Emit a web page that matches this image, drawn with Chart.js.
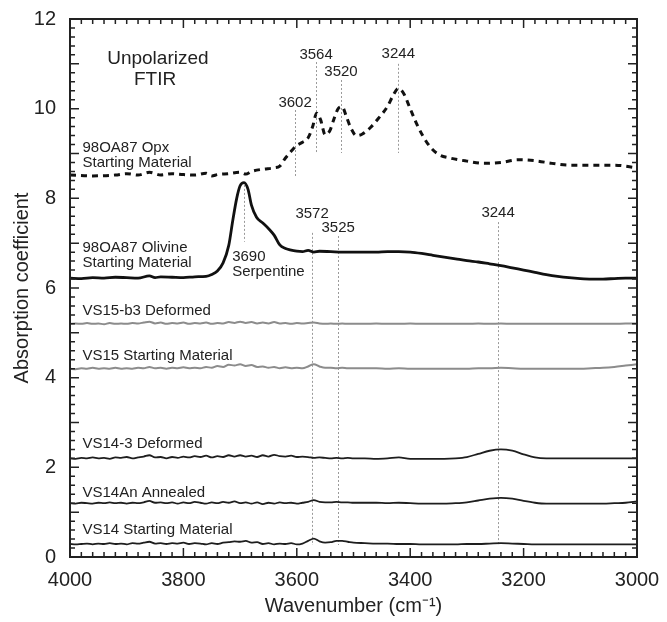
<!DOCTYPE html>
<html>
<head>
<meta charset="utf-8">
<script src="https://cdn.jsdelivr.net/npm/chart.js@4/dist/chart.umd.min.js"></script>
<style>
  body { margin: 0; background: #fff; }
</style>
</head>
<body>
<canvas id="ftir" width="667" height="622"></canvas>
<script>
// wavenumber grid shared by the VS spectra (cm-1)
var wnGrid = [4000,3990,3980,3970,3960,3950,3940,3930,3920,3910,3900,3890,3880,3870,3860,3850,3840,3830,3820,3810,
  3800,3790,3780,3770,3760,3750,3740,3730,3720,3710,3700,3690,3680,3670,3660,3650,3640,3630,3620,3610,
  3600,3590,3580,3570,3560,3550,3540,3530,3520,3510,3500,
  3480,3460,3440,3420,3400,3380,3360,3340,3320,3300,3280,3260,3240,3220,3200,3180,3160,3140,3120,3100,
  3080,3060,3040,3020,3000];

var vs14Start = [0.29,0.28,0.29,0.30,0.28,0.30,0.29,0.31,0.29,0.30,0.28,0.31,0.30,0.32,0.34,0.30,0.31,0.29,0.31,0.30,
  0.32,0.29,0.31,0.30,0.28,0.31,0.29,0.32,0.33,0.35,0.34,0.36,0.32,0.33,0.29,0.31,0.28,0.30,0.29,0.31,
  0.28,0.30,0.36,0.41,0.35,0.32,0.33,0.36,0.36,0.34,0.32,
  0.31,0.30,0.30,0.29,0.29,0.28,0.28,0.28,0.28,0.29,0.29,0.30,0.31,0.30,0.29,0.28,0.28,0.28,0.28,0.28,
  0.28,0.28,0.28,0.28,0.28];

var vs14An = [1.20,1.19,1.21,1.20,1.19,1.21,1.20,1.22,1.20,1.21,1.19,1.21,1.20,1.22,1.25,1.21,1.22,1.20,1.22,1.19,
  1.22,1.20,1.23,1.21,1.19,1.22,1.20,1.23,1.21,1.24,1.20,1.22,1.19,1.22,1.18,1.21,1.19,1.22,1.20,1.21,
  1.19,1.21,1.23,1.27,1.23,1.22,1.22,1.23,1.22,1.22,1.21,
  1.21,1.21,1.20,1.21,1.20,1.19,1.19,1.19,1.20,1.22,1.26,1.30,1.32,1.30,1.25,1.21,1.19,1.19,1.19,1.19,
  1.19,1.19,1.20,1.21,1.24];

var vs14Def = [2.20,2.19,2.21,2.20,2.22,2.20,2.21,2.19,2.22,2.21,2.23,2.20,2.22,2.24,2.27,2.22,2.23,2.20,2.23,2.21,
  2.24,2.22,2.25,2.23,2.26,2.22,2.25,2.23,2.27,2.24,2.27,2.24,2.26,2.23,2.27,2.24,2.28,2.25,2.24,2.26,
  2.23,2.24,2.23,2.21,2.22,2.21,2.20,2.21,2.20,2.21,2.20,
  2.20,2.19,2.20,2.22,2.19,2.19,2.19,2.19,2.20,2.23,2.30,2.37,2.40,2.37,2.29,2.22,2.20,2.20,2.20,2.20,
  2.20,2.20,2.20,2.20,2.20];

var vs15Start = [4.20,4.19,4.21,4.20,4.22,4.20,4.21,4.20,4.22,4.20,4.21,4.20,4.22,4.21,4.24,4.21,4.22,4.20,4.22,4.21,
  4.23,4.21,4.22,4.21,4.24,4.22,4.26,4.24,4.29,4.27,4.30,4.26,4.28,4.24,4.25,4.22,4.24,4.21,4.23,4.21,
  4.22,4.21,4.25,4.30,4.25,4.22,4.22,4.21,4.22,4.21,4.21,
  4.21,4.21,4.20,4.21,4.20,4.20,4.20,4.20,4.20,4.20,4.21,4.21,4.22,4.21,4.20,4.20,4.20,4.20,4.20,4.20,
  4.21,4.22,4.24,4.27,4.30];

var vs15Def = [5.20,5.21,5.20,5.22,5.20,5.21,5.19,5.22,5.20,5.21,5.20,5.22,5.21,5.23,5.25,5.21,5.23,5.20,5.22,5.21,
  5.23,5.20,5.22,5.21,5.23,5.20,5.22,5.21,5.24,5.22,5.25,5.22,5.24,5.21,5.23,5.21,5.24,5.21,5.22,5.20,
  5.22,5.21,5.22,5.23,5.21,5.20,5.21,5.20,5.21,5.20,5.20,
  5.20,5.21,5.20,5.20,5.21,5.20,5.20,5.20,5.20,5.20,5.21,5.20,5.21,5.20,5.20,5.20,5.20,5.20,5.20,5.20,
  5.20,5.20,5.20,5.21,5.21];

// olivine starting material with serpentine peak
var wnOlivine = [4000,3980,3960,3940,3920,3900,3880,3860,3850,3840,3820,3800,3780,3760,3750,3740,3730,3720,3713,3706,
  3700,3693,3686,3680,3671,3660,3648,3640,3630,3620,3612,3600,3590,3580,3570,3560,3540,3520,3500,3480,
  3460,3440,3420,3400,3380,3360,3340,3320,3300,3280,3260,3240,3220,3200,3180,3160,3140,3120,3100,3080,
  3060,3040,3020,3000];
var olivine = [6.22,6.21,6.23,6.22,6.24,6.23,6.22,6.27,6.23,6.25,6.24,6.23,6.25,6.26,6.30,6.38,6.56,6.95,7.50,8.00,
  8.28,8.35,8.20,7.85,7.58,7.45,7.30,7.18,6.96,6.88,6.85,6.82,6.81,6.84,6.80,6.82,6.81,6.80,6.80,6.80,
  6.80,6.81,6.81,6.80,6.77,6.73,6.69,6.65,6.61,6.58,6.54,6.50,6.45,6.40,6.35,6.30,6.26,6.23,6.21,6.20,
  6.20,6.21,6.22,6.22];

// orthopyroxene starting material (dashed)
var wnOpx = [4000,3960,3920,3900,3880,3860,3840,3820,3800,3780,3760,3750,3740,3720,3700,3690,3680,3660,3640,3630,
  3620,3610,3600,3590,3580,3572,3565,3558,3550,3542,3535,3527,3520,3512,3504,3495,3485,3470,3455,3440,
  3430,3421,3412,3400,3390,3378,3365,3350,3330,3300,3270,3240,3210,3180,3150,3120,3080,3040,3000];
var opx = [8.52,8.50,8.52,8.55,8.52,8.58,8.52,8.55,8.53,8.52,8.56,8.50,8.53,8.55,8.58,8.54,8.60,8.65,8.68,8.72,
  8.90,9.05,9.18,9.25,9.35,9.60,9.90,9.75,9.42,9.50,9.75,10.00,10.04,9.80,9.55,9.40,9.43,9.58,9.80,10.05,
  10.30,10.45,10.35,10.00,9.70,9.40,9.15,8.98,8.90,8.83,8.78,8.80,8.86,8.84,8.78,8.74,8.74,8.74,8.68];

var xTicks = [4000,3800,3600,3400,3200,3000];
var yTicks = [0,2,4,6,8,10,12];

// text labels, placed in data units
var sampleLabels = [
  { text: '98OA87 Opx', wn: 3978, v: 9.13 },
  { text: 'Starting Material', wn: 3978, v: 8.80 },
  { text: '98OA87 Olivine', wn: 3978, v: 6.90 },
  { text: 'Starting Material', wn: 3978, v: 6.56 },
  { text: 'VS15-b3 Deformed', wn: 3978, v: 5.49 },
  { text: 'VS15 Starting Material', wn: 3978, v: 4.48 },
  { text: 'VS14-3 Deformed', wn: 3978, v: 2.52 },
  { text: 'VS14An Annealed', wn: 3978, v: 1.44 },
  { text: 'VS14 Starting Material', wn: 3978, v: 0.60 },
  { text: '3690', wn: 3714, v: 6.70 },
  { text: 'Serpentine', wn: 3714, v: 6.37 }
];
var peakMarks = [
  { text: '3602', wn: 3603, top: 9.97, bottom: 8.48, lv: 10.14 },
  { text: '3564', wn: 3566, top: 11.04, bottom: 9.01, lv: 11.20 },
  { text: '3520', wn: 3522, top: 10.64, bottom: 9.01, lv: 10.81 },
  { text: '3244', wn: 3421, top: 11.00, bottom: 9.01, lv: 11.22 },
  { text: '', wn: 3693, top: 8.30, bottom: 7.03, lv: 0 },
  { text: '3572', wn: 3573, top: 7.23, bottom: 0.27, lv: 7.65 },
  { text: '3525', wn: 3527, top: 7.16, bottom: 0.27, lv: 7.35 },
  { text: '3244', wn: 3245, top: 7.47, bottom: 0.27, lv: 7.67 }
];

function pts(xs, ys) {
  return xs.map(function (x, i) { return { x: x, y: ys[i] }; });
}

var ink = '#222';
var fontFam = '"Liberation Sans", Arial, sans-serif';

var overlay = {
  id: 'overlay',
  beforeDatasetsDraw: function (chart) {
    var ctx = chart.ctx, xs = chart.scales.x, ys = chart.scales.y;
    ctx.save();
    ctx.strokeStyle = '#9a9a9a';
    ctx.lineWidth = 1;
    ctx.setLineDash([2, 2]);
    peakMarks.forEach(function (p) {
      var px = Math.round(xs.getPixelForValue(p.wn)) + 0.5;
      ctx.beginPath();
      ctx.moveTo(px, ys.getPixelForValue(p.top));
      ctx.lineTo(px, ys.getPixelForValue(p.bottom));
      ctx.stroke();
    });
    ctx.restore();
  },
  afterDraw: function (chart) {
    var ctx = chart.ctx, a = chart.chartArea, xs = chart.scales.x, ys = chart.scales.y;
    ctx.save();
    // frame
    ctx.strokeStyle = ink;
    ctx.lineWidth = 2;
    ctx.setLineDash([]);
    ctx.strokeRect(a.left, a.top, a.right - a.left, a.bottom - a.top);
    // inward ticks
    ctx.lineWidth = 1.5;
    ctx.beginPath();
    for (var w = 3000; w <= 4000; w += 20) {
      var px = xs.getPixelForValue(w);
      var len = (w % 200 === 0) ? 9 : 5;
      ctx.moveTo(px, a.bottom); ctx.lineTo(px, a.bottom - len);
      ctx.moveTo(px, a.top); ctx.lineTo(px, a.top + len);
    }
    for (var i = 0; i <= 60; i++) {
      var py = ys.getPixelForValue(i / 5);
      var l2 = (i % 5 === 0) ? 9 : 5;
      ctx.moveTo(a.left, py); ctx.lineTo(a.left + l2, py);
      ctx.moveTo(a.right, py); ctx.lineTo(a.right - l2, py);
    }
    ctx.stroke();
    // texts
    ctx.fillStyle = ink;
    ctx.textBaseline = 'middle';
    ctx.textAlign = 'left';
    ctx.font = '15px ' + fontFam;
    sampleLabels.forEach(function (s) {
      ctx.fillText(s.text, xs.getPixelForValue(s.wn), ys.getPixelForValue(s.v));
    });
    ctx.textAlign = 'center';
    peakMarks.forEach(function (p) {
      if (p.text) ctx.fillText(p.text, xs.getPixelForValue(p.wn), ys.getPixelForValue(p.lv));
    });
    ctx.font = '19px ' + fontFam;
    ctx.fillText('Unpolarized', xs.getPixelForValue(3845), ys.getPixelForValue(11.11));
    ctx.fillText('FTIR', xs.getPixelForValue(3850), ys.getPixelForValue(10.64));
    ctx.restore();
  }
};

new Chart(document.getElementById('ftir'), {
  type: 'line',
  data: {
    datasets: [
      { label: 'VS14 Starting Material', data: pts(wnGrid, vs14Start), borderColor: '#1e1e1e', borderWidth: 1.8 },
      { label: 'VS14An Annealed', data: pts(wnGrid, vs14An), borderColor: '#1e1e1e', borderWidth: 1.8 },
      { label: 'VS14-3 Deformed', data: pts(wnGrid, vs14Def), borderColor: '#1e1e1e', borderWidth: 1.8 },
      { label: 'VS15 Starting Material', data: pts(wnGrid, vs15Start), borderColor: '#8c8c8c', borderWidth: 2 },
      { label: 'VS15-b3 Deformed', data: pts(wnGrid, vs15Def), borderColor: '#8c8c8c', borderWidth: 2 },
      { label: '98OA87 Olivine', data: pts(wnOlivine, olivine), borderColor: '#111', borderWidth: 2.8 },
      { label: '98OA87 Opx', data: pts(wnOpx, opx), borderColor: '#111', borderWidth: 3, borderDash: [6, 5] }
    ]
  },
  options: {
    responsive: false,
    animation: false,
    events: [],
    layout: { padding: { top: 19, right: 30, left: 0, bottom: 0 } },
    elements: {
      point: { radius: 0 },
      line: { fill: false, cubicInterpolationMode: 'monotone' }
    },
    plugins: { legend: { display: false }, tooltip: { enabled: false } },
    scales: {
      x: {
        type: 'linear',
        reverse: true,
        min: 3000,
        max: 4000,
        afterFit: function (s) { s.height = 65; },
        afterBuildTicks: function (s) { s.ticks = xTicks.map(function (v) { return { value: v }; }); },
        grid: { display: false },
        border: { display: false },
        ticks: { color: ink, padding: 3, font: { size: 20, family: fontFam },
                 callback: function (v) { return String(v); } },
        title: { display: true, text: 'Wavenumber (cm⁻¹)', color: ink, padding: { top: 0, bottom: 4 },
                 font: { size: 20, family: fontFam } }
      },
      y: {
        type: 'linear',
        min: 0,
        max: 12,
        afterFit: function (s) { s.width = 70; },
        afterBuildTicks: function (s) { s.ticks = yTicks.map(function (v) { return { value: v }; }); },
        grid: { display: false },
        border: { display: false },
        ticks: { color: ink, padding: 6, font: { size: 20, family: fontFam },
                 callback: function (v) { return String(v); } },
        title: { display: true, text: 'Absorption coefficient', color: ink, padding: { top: 10, bottom: 0 },
                 font: { size: 20, family: fontFam } }
      }
    }
  },
  plugins: [overlay]
});
</script>
</body>
</html>
